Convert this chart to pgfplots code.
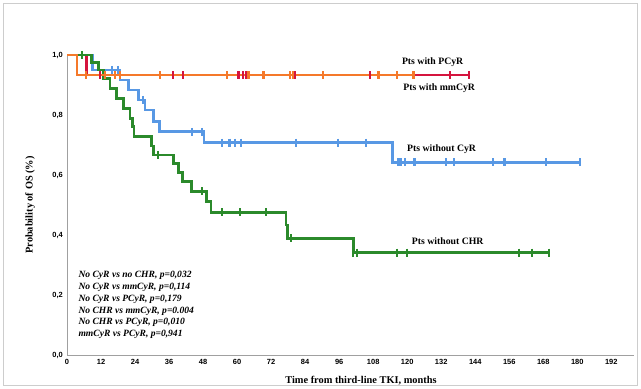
\documentclass[border=0pt]{standalone}
\usepackage{fontspec}
\setmainfont{Liberation Serif}
\newfontfamily\tickfont{Liberation Sans}
\usepackage{pgfplots}
\pgfplotsset{compat=1.18}
\definecolor{cOrange}{RGB}{245,121,42}
\definecolor{cRed}{RGB}{213,20,62}
\definecolor{cBlue}{RGB}{88,152,228}
\definecolor{cGreen}{RGB}{43,138,43}
\definecolor{cAxis}{RGB}{160,160,160}
\definecolor{cFrame}{RGB}{205,205,205}
\begin{document}
\begin{tikzpicture}
\useasboundingbox (-67bp,-34bp) rectangle (574bp,355bp);
\draw[cFrame, line width=1bp] (-63.5bp,-30.5bp) rectangle (570.5bp,351.5bp);
\begin{axis}[
  at={(0,0)}, anchor=south west,
  scale only axis, width=567bp, height=300bp,
  xmin=0, xmax=200, ymin=0, ymax=1,
  clip=false,
  axis x line*=bottom, axis y line*=left,
  axis line style={-, cAxis, line width=0.8bp},
  major tick length=0pt,
  xtick={0,12,...,192},
  xticklabels={0,12,24,36,48,60,72,84,96,108,120,132,144,156,168,180,192},
  ytick={0,0.2,0.4,0.6,0.8,1.0},
  yticklabels={{0,0},{0,2},{0,4},{0,6},{0,8},{1,0}},
  xticklabel style={font=\tickfont\bfseries\fontsize{7.5}{8}\selectfont, inner sep=0pt, anchor=north, yshift=-4.5bp},
  yticklabel style={font=\tickfont\bfseries\fontsize{7.5}{8}\selectfont, inner sep=0pt, anchor=east, xshift=-4bp},
  every axis plot/.append style={line width=2.7bp},
]
% Pts without CyR
\addplot[cBlue, const plot, no marks] coordinates {
 (0,1)(8.9,0.95)(18.7,0.917)(21.6,0.883)(25.2,0.85)(27.5,0.817)(30.5,0.778)(32.6,0.744)(48.3,0.708)(114.7,0.642)(181,0.642)};
\addplot[cBlue, only marks, mark=|, mark size=4bp, mark options={line width=2.2bp}] coordinates {
 (15.8,0.95)(18.1,0.95)(26.7,0.85)(44.0,0.744)(47.5,0.744)
 (54.6,0.708)(57.3,0.708)(59.3,0.708)(61.3,0.708)(80.7,0.708)(95.5,0.708)(105.4,0.708)
 (116.9,0.642)(117.7,0.642)(119.3,0.642)(122.6,0.642)(133.6,0.642)(136.6,0.642)(150.2,0.642)(154.3,0.642)(169.0,0.642)(181.0,0.642)};
% Pts with mmCyR
\addplot[cRed, const plot, no marks] coordinates {
 (0,1)(6.9,0.933)(141.9,0.933)};
\addplot[cRed, only marks, mark=|, mark size=4bp, mark options={line width=2.2bp}] coordinates {
 (11.6,0.933)(37.5,0.933)(41.0,0.933)(60.5,0.933)(62.2,0.933)(63.3,0.933)(80.5,0.933)(106.9,0.933)(135.1,0.933)(141.9,0.933)};
% Pts without CHR
\addplot[cGreen, const plot, no marks] coordinates {
 (0,1)(8.7,0.974)(11,0.95)(12.8,0.922)(15.2,0.889)(17.5,0.856)(19.9,0.822)(22.2,0.789)(23,0.761)(23.6,0.728)(29.9,0.697)(30.5,0.667)(37.5,0.639)(39.3,0.608)(40.8,0.578)(44,0.545)(49.3,0.511)(50.8,0.476)(77.3,0.433)(77.8,0.389)(101,0.341)(170.1,0.341)};
\addplot[cGreen, only marks, mark=|, mark size=4bp, mark options={line width=2.2bp}] coordinates {
 (5.2,1.0)(32.2,0.667)(47.5,0.545)(54.6,0.476)(61.0,0.476)(70.2,0.476)(79.0,0.389)
 (101.0,0.341)(102.2,0.341)(116.3,0.341)(119.9,0.341)(159.3,0.341)(164.0,0.341)(170.1,0.341)};
% Pts with PCyR
\addplot[cOrange, const plot, no marks] coordinates {
 (0,1)(3.5,0.933)(122.2,0.933)};
\addplot[cOrange, only marks, mark=|, mark size=4bp, mark options={line width=2.2bp}] coordinates {
 (6.7,0.933)(13.4,0.933)(16.9,0.933)(18.7,0.933)(32.8,0.933)(56.3,0.933)(64.0,0.933)(69.3,0.933)(78.7,0.933)(79.6,0.933)(90.4,0.933)(109.9,0.933)(116.3,0.933)(122.2,0.933)};
% labels
\node[anchor=west, inner sep=0pt, font=\bfseries\fontsize{9.8}{11}\selectfont] at (axis cs:118.1,0.976) {Pts with PCyR};
\node[anchor=west, inner sep=0pt, font=\bfseries\fontsize{9.8}{11}\selectfont] at (axis cs:118.6,0.889) {Pts with mmCyR};
\node[anchor=west, inner sep=0pt, font=\bfseries\fontsize{9.8}{11}\selectfont] at (axis cs:119.9,0.687) {Pts without CyR};
\node[anchor=west, inner sep=0pt, font=\bfseries\fontsize{9.8}{11}\selectfont] at (axis cs:121.6,0.378) {Pts without CHR};
\node[anchor=west, inner sep=0pt, font=\bfseries\itshape\fontsize{9.6}{11}\selectfont] at (axis cs:4,0.264) {No CyR vs no CHR, p=0,032};
\node[anchor=west, inner sep=0pt, font=\bfseries\itshape\fontsize{9.6}{11}\selectfont] at (axis cs:4,0.225) {No CyR vs mmCyR, p=0,114};
\node[anchor=west, inner sep=0pt, font=\bfseries\itshape\fontsize{9.6}{11}\selectfont] at (axis cs:4,0.186) {No CyR vs PCyR, p=0,179};
\node[anchor=west, inner sep=0pt, font=\bfseries\itshape\fontsize{9.6}{11}\selectfont] at (axis cs:4,0.147) {No CHR vs mmCyR, p=0.004};
\node[anchor=west, inner sep=0pt, font=\bfseries\itshape\fontsize{9.6}{11}\selectfont] at (axis cs:4,0.108) {No CHR vs PCyR, p=0,010};
\node[anchor=west, inner sep=0pt, font=\bfseries\itshape\fontsize{9.6}{11}\selectfont] at (axis cs:4,0.069) {mmCyR vs PCyR, p=0,941};
\node[inner sep=0pt, font=\bfseries\fontsize{10.4}{12}\selectfont] at (axis cs:103.7,-0.087) {Time from third-line TKI, months};
\node[inner sep=0pt, rotate=90, font=\bfseries\fontsize{10.4}{12}\selectfont] at (axis cs:-13,0.5) {Probability of OS (\%)};
\end{axis}
\end{tikzpicture}
\end{document}
